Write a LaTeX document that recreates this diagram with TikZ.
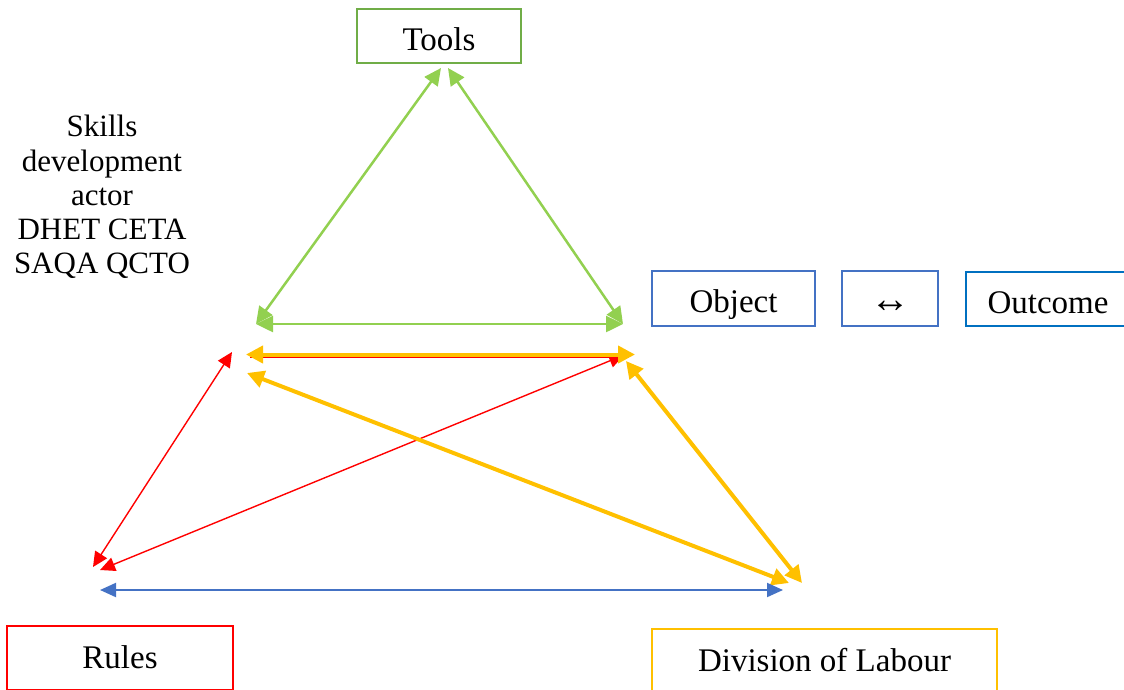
\documentclass[tikz,border=0pt]{standalone}
\usepackage{fontspec}
\setmainfont{Liberation Serif}
\usetikzlibrary{arrows.meta}
\definecolor{toolgreen}{HTML}{70AD47}
\definecolor{lightgreen}{HTML}{92D050}
\definecolor{objblue}{HTML}{4472C4}
\definecolor{outblue}{HTML}{0070C0}
\definecolor{rulered}{HTML}{FF0000}
\definecolor{labgold}{HTML}{FFC000}
\begin{document}
\begin{tikzpicture}[x=1pt,y=-1pt,
  box/.style={draw,line width=2.5pt,inner sep=0pt,minimum height=55pt,
              text height=30.5pt,text depth=2pt,
              font=\fontsize{33}{38}\selectfont},
  lowbox/.style={box,text height=21.8pt,text depth=0pt},
  greenlink/.style={draw=lightgreen,line width=2.5pt,
              {Triangle[length=17pt,width=16pt]}-{Triangle[length=17pt,width=16pt]}},
  goldlink/.style={draw=labgold,line width=4pt,
              {Triangle[length=17pt,width=17pt]}-{Triangle[length=17pt,width=17pt]}},
  redlink/.style={draw=rulered,line width=1.4pt,
              {Triangle[length=15pt,width=14pt]}-{Triangle[length=15pt,width=14pt]}},
  bluelink/.style={draw=objblue,line width=2pt,
              {Triangle[length=16pt,width=14pt]}-{Triangle[length=16pt,width=14pt]}},
]
\useasboundingbox (0,0) rectangle (1124,689);
\clip (0,0) rectangle (1124,689);

% labelled boxes
\node[box,draw=toolgreen,minimum width=164pt,minimum height=54pt] (tools) at (439,36) {Tools};
\node[box,draw=objblue,minimum width=163pt] (object) at (733.5,298.5) {Object};
\node[box,draw=objblue,minimum width=96pt] (link) at (890,298.5) {\fontsize{40}{40}\selectfont ↔};
\node[box,draw=outblue,minimum width=164pt,minimum height=54pt] (outcome) at (1048,299) {Outcome};
\node[lowbox,draw=rulered,minimum width=226pt,minimum height=64pt] (rules) at (120,658) {Rules};
\node[lowbox,draw=labgold,minimum width=345pt,minimum height=63pt] (labour) at (824.5,660.5) {Division of Labour};

% actor note
\node[align=center,inner sep=0pt,font=\fontsize{31}{34.2}\selectfont] (actor) at (102,197)
  {Skills\\development\\actor\\DHET CETA\\SAQA QCTO};

% triangle corners
\coordinate (tipL) at (441,68);
\coordinate (tipR) at (448,68);
\coordinate (gL) at (256,324);
\coordinate (gR) at (623,324);
\coordinate (oL) at (246,354.5);
\coordinate (oR) at (635,354.5);
\coordinate (oLd) at (247,373);
\coordinate (oRd) at (789,583);
\coordinate (oR2) at (626,361);
\coordinate (oD) at (802,583);
\coordinate (rT) at (232,352);
\coordinate (rB) at (93,567);
\coordinate (rH1) at (250,357.5);
\coordinate (rH2) at (620,357.5);
\coordinate (rT2) at (624,355);
\coordinate (rB2) at (100,570);
\coordinate (bL) at (100,590);
\coordinate (bR) at (783,590);

% rules links
\draw[redlink] (rT) -- (rB);
\draw[redlink] (rT2) -- (rB2);
\draw[draw=rulered,line width=1.4pt] (rH1) -- (rH2);

% division of labour links
\draw[goldlink] (oL) -- (oR);
\draw[goldlink] (oLd) -- (oRd);
\draw[goldlink] (oR2) -- (oD);

% tools links
\draw[greenlink] (tipL) -- (gL);
\draw[greenlink] (tipR) -- (gR);
\draw[greenlink] (gL) -- (gR);

% base link
\draw[bluelink] (bL) -- (bR);
\end{tikzpicture}
\end{document}
